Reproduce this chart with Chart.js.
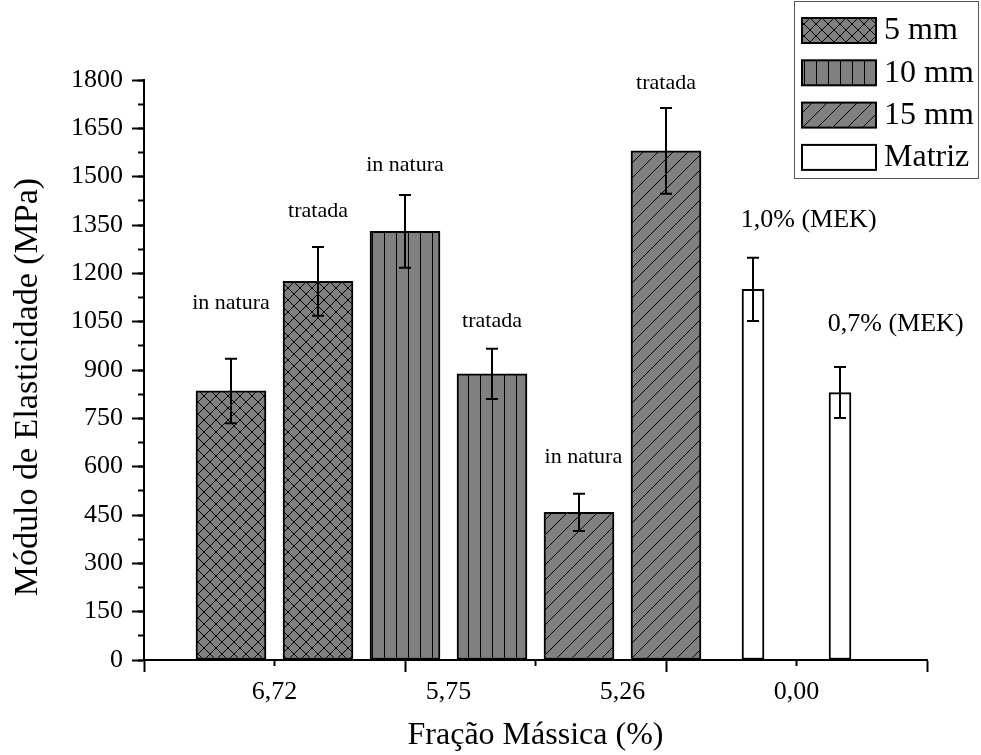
<!DOCTYPE html>
<html>
<head>
<meta charset="utf-8">
<script src="https://cdn.jsdelivr.net/npm/chart.js@4.4.0/dist/chart.umd.min.js"></script>
<style>
  html, body { margin: 0; padding: 0; background: #fff; }
  canvas { display: block; }
</style>
</head>
<body>
<canvas id="chart" width="981" height="755"></canvas>
<script>
// legend groups (fibre length) and the group of every bar
const groupNames = ['5 mm', '10 mm', '15 mm', 'Matriz'];
const barGroup = [0, 0, 1, 1, 2, 2, 3, 3];
// bar positions along the x axis
const barX = [1, 2, 3, 4, 5, 6, 7, 8];
// elastic modulus (MPa) and its deviation
const modulus = [835, 1175, 1330, 888, 458, 1580, 1150, 830];
const modulusErr = [100, 107, 113, 78, 58, 133, 98, 79];

// x axis: mass fraction labels and tick marks
const xLabelPos = [1.5, 3.5, 5.5, 7.5];
const xLabels = ['6,72', '5,75', '5,26', '0,00'];
const xMajorTicks = [0, 3, 6, 9];
const xMinorTicks = [1.5, 4.5, 7.5];

// notes written over the bars (x in bar units, y in MPa)
const noteText = ['in natura', 'tratada', 'in natura', 'tratada', 'in natura', 'tratada', '1,0% (MEK)', '0,7% (MEK)'];
const noteX = [1, 2, 3, 4, 5.05, 6, 7.64, 8.64];
const noteY = [1108, 1394, 1536, 1052, 630, 1791, 1366, 1043];

const SERIF = '"Liberation Serif", "Times New Roman", serif';
Chart.defaults.font.family = SERIF;
Chart.defaults.color = '#000';

// hatch fills like the Origin patterns
function makePattern(kind) {
  const s = kind === 'diag' ? 15 : 12;
  const c = document.createElement('canvas');
  c.width = s; c.height = s;
  const g = c.getContext('2d');
  g.fillStyle = '#808080';
  g.fillRect(0, 0, s, s);
  g.strokeStyle = '#000';
  g.lineWidth = 1;
  g.beginPath();
  if (kind === 'cross') {
    g.moveTo(0, 0); g.lineTo(s, s);
    g.moveTo(0, s); g.lineTo(s, 0);
  } else if (kind === 'vert') {
    g.moveTo(0.5, 0); g.lineTo(0.5, s);
  } else {
    g.moveTo(0, s); g.lineTo(s, 0);
    g.moveTo(-1, 1); g.lineTo(1, -1);
    g.moveTo(s - 1, s + 1); g.lineTo(s + 1, s - 1);
  }
  g.stroke();
  return g.createPattern(c, 'repeat');
}

const fills = [makePattern('cross'), makePattern('vert'), makePattern('diag'), '#ffffff'];

const datasets = groupNames.map((name, g) => {
  const idx = barX.map((_, i) => i).filter(i => barGroup[i] === g);
  return {
    label: name,
    data: idx.map(i => ({ x: barX[i], y: modulus[i] })),
    errors: idx.map(i => modulusErr[i]),
    backgroundColor: fills[g],
    borderColor: '#000',
    borderWidth: 2,
    borderSkipped: false,
    barThickness: g === 3 ? 22 : 70,
    grouped: false
  };
});

const errorBars = {
  id: 'errorBars',
  afterDatasetsDraw(chart) {
    const { ctx } = chart;
    const y = chart.scales.y;
    ctx.save();
    ctx.strokeStyle = '#000';
    ctx.lineWidth = 2;
    chart.data.datasets.forEach((ds, d) => {
      chart.getDatasetMeta(d).data.forEach((bar, i) => {
        const v = ds.data[i].y, e = ds.errors[i];
        const top = y.getPixelForValue(v + e), bot = y.getPixelForValue(v - e);
        ctx.beginPath();
        ctx.moveTo(bar.x, top); ctx.lineTo(bar.x, bot);
        ctx.moveTo(bar.x - 6, top); ctx.lineTo(bar.x + 6, top);
        ctx.moveTo(bar.x - 6, bot); ctx.lineTo(bar.x + 6, bot);
        ctx.stroke();
      });
    });
    ctx.restore();
  }
};

const barNotes = {
  id: 'barNotes',
  afterDraw(chart) {
    const { ctx, scales: { x, y } } = chart;
    ctx.save();
    ctx.fillStyle = '#000';
    ctx.textAlign = 'center';
    ctx.textBaseline = 'middle';
    noteText.forEach((t, i) => {
      ctx.font = (i < 6 ? '22px ' : '26px ') + SERIF;
      ctx.fillText(t, x.getPixelForValue(noteX[i]), y.getPixelForValue(noteY[i]));
    });
    ctx.restore();
  }
};

const boxLegend = {
  id: 'boxLegend',
  afterDraw(chart) {
    const ctx = chart.ctx;
    ctx.save();
    ctx.strokeStyle = '#555';
    ctx.lineWidth = 1;
    ctx.strokeRect(794.5, 1.5, 184, 177);
    chart.data.datasets.forEach((ds, i) => {
      const cy = 30 + i * 42.3;
      ctx.fillStyle = ds.backgroundColor;
      ctx.fillRect(802, cy - 12, 74, 25);
      ctx.strokeStyle = '#000';
      ctx.lineWidth = 2;
      ctx.strokeRect(802, cy - 12, 74, 25);
      ctx.fillStyle = '#000';
      ctx.font = '32px ' + SERIF;
      ctx.textBaseline = 'middle';
      ctx.textAlign = 'left';
      ctx.fillText(ds.label, 884, cy + 1);
    });
    ctx.restore();
  }
};

const tickGrid = (len) => ({
  drawOnChartArea: false,
  offset: false,
  tickLength: len,
  tickWidth: 2,
  tickColor: '#000'
});

new Chart(document.getElementById('chart'), {
  type: 'bar',
  data: { datasets },
  options: {
    responsive: false,
    animation: false,
    layout: { padding: { top: 80, right: 54, left: 0, bottom: 0 } },
    plugins: { legend: { display: false }, tooltip: { enabled: false } },
    scales: {
      x: {
        type: 'linear', position: 'bottom', min: 0, max: 9, offset: false, weight: 1,
        grid: tickGrid(12),
        border: { display: true, color: '#000', width: 2 },
        ticks: { display: false },
        afterBuildTicks: (axis) => { axis.ticks = xMajorTicks.map(v => ({ value: v })); },
        afterFit: (axis) => { axis.height = 0; }
      },
      xMinor: {
        type: 'linear', position: 'bottom', min: 0, max: 9, offset: false, weight: 0,
        grid: tickGrid(6),
        border: { display: false },
        ticks: { display: false },
        afterBuildTicks: (axis) => { axis.ticks = xMinorTicks.map(v => ({ value: v })); },
        afterFit: (axis) => { axis.height = 0; }
      },
      xLab: {
        type: 'linear', position: 'bottom', min: 0, max: 9, offset: false, weight: 2,
        grid: { display: false, drawTicks: false, offset: false },
        border: { display: false },
        ticks: {
          autoSkip: false, maxRotation: 0, padding: 17,
          font: { size: 26 },
          callback: (v, i) => xLabels[i]
        },
        afterBuildTicks: (axis) => { axis.ticks = xLabelPos.map(v => ({ value: v })); },
        title: { display: true, text: 'Fração Mássica (%)', font: { size: 32 }, padding: { top: 0, bottom: 0 } },
        afterFit: (axis) => { axis.height = 95; }
      },
      y: {
        position: 'left', min: 0, max: 1800, weight: 1,
        grid: tickGrid(12),
        border: { display: true, color: '#000', width: 2 },
        ticks: { stepSize: 150, padding: 9, font: { size: 26 }, callback: (v) => String(v) },
        // trailing spaces push the title a little below the axis centre, as in the original
        title: { display: true, text: 'Módulo de Elasticidade (MPa)    ', font: { size: 34 }, padding: { top: 8, bottom: 0 } },
        afterFit: (axis) => { axis.width = 144; }
      },
      yMinor: {
        position: 'left', min: 0, max: 1800, weight: 0,
        grid: tickGrid(6),
        border: { display: false },
        ticks: { stepSize: 75, display: false },
        afterFit: (axis) => { axis.width = 0; }
      }
    }
  },
  plugins: [errorBars, barNotes, boxLegend]
});
</script>
</body>
</html>
